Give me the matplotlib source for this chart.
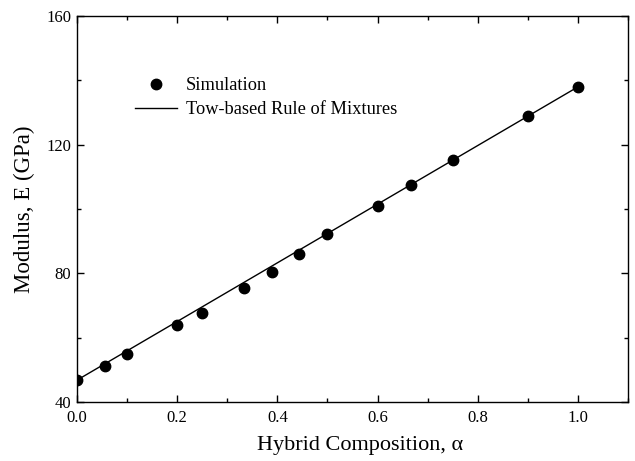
import matplotlib
matplotlib.use("Agg")
import matplotlib.pyplot as plt
from matplotlib.ticker import MultipleLocator

plt.rcParams['font.family'] = ['Liberation Serif', 'DejaVu Serif']

# Simulation results
alpha = [0.0, 0.055, 0.1, 0.2, 0.25, 0.333, 0.39, 0.444, 0.5, 0.6, 0.667, 0.75, 0.9, 1.0]
modulus = [46.8, 51.3, 55.0, 63.9, 67.8, 75.3, 80.5, 86.0, 92.1, 101.0, 107.4, 115.2, 128.9, 138.0]

# Tow-based rule of mixtures (straight line between end members)
rom_alpha = [0.0, 1.0]
rom_modulus = [46.8, 138.0]

fig = plt.figure(figsize=(6.35, 4.61), dpi=100)
ax = fig.add_axes([0.1213, 0.128, 0.8677, 0.837])

ax.plot(alpha, modulus, 'o', color='black', markersize=7.5, label='Simulation')
ax.plot(rom_alpha, rom_modulus, '-', color='black', linewidth=1.0,
        label='Tow-based Rule of Mixtures')

ax.set_xlim(0, 1.1)
ax.set_ylim(40, 160)
ax.xaxis.set_minor_locator(MultipleLocator(0.1))
ax.yaxis.set_major_locator(MultipleLocator(40))
ax.yaxis.set_minor_locator(MultipleLocator(20))
ax.set_xticks([0.0, 0.2, 0.4, 0.6, 0.8, 1.0])
ax.set_xticklabels(['0.0', '0.2', '0.4', '0.6', '0.8', '1.0'])

ax.tick_params(which='both', direction='in', top=True, right=True,
               labelsize=12, width=1.0)
ax.tick_params(which='major', length=5)
ax.tick_params(which='minor', length=3)
ax.tick_params(axis='x', pad=6)
ax.tick_params(axis='y', pad=4)
for s in ax.spines.values():
    s.set_linewidth(1.0)

ax.set_xlabel('Hybrid Composition, α', fontsize=16)
ax.xaxis.set_label_coords(0.513, -0.088)
ax.set_ylabel('Modulus, E (GPa)', fontsize=16.5, labelpad=8)

ax.legend(loc='upper left', bbox_to_anchor=(0.105, 0.842), frameon=False,
          fontsize=13.2, handlelength=2.3, handletextpad=0.5, labelspacing=0.38,
          borderpad=0, borderaxespad=0)

fig.savefig('out.png', dpi=100)
